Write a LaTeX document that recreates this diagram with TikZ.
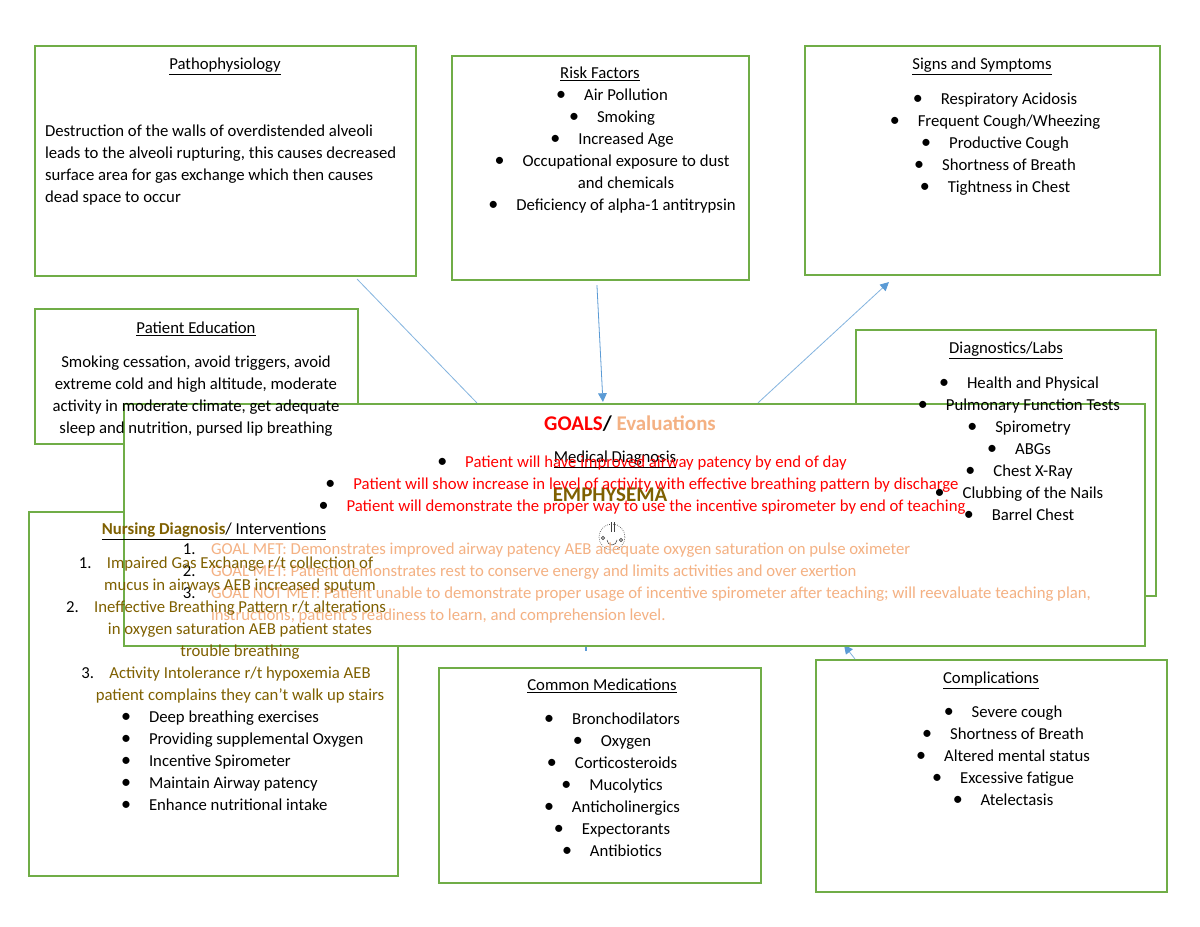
\documentclass[tikz,border=0pt]{standalone}
\usepackage{fontspec}
\setmainfont{Carlito}
\usetikzlibrary{fit,calc,arrows.meta}
\pgfdeclarelayer{under}
\pgfdeclarelayer{over}
\pgfsetlayers{under,main,over}
\definecolor{boxgreen}{HTML}{70AD47}
\definecolor{linkblue}{HTML}{5B9BD5}
\definecolor{olive}{HTML}{7F6000}
\definecolor{peach}{HTML}{F4B183}
\newcommand{\bl}[1]{\leavevmode\strut\llap{\textcolor{black}{\fontsize{15}{15}\selectfont •}\hspace{13.5pt}}#1}
\newcommand{\nm}[2]{\leavevmode\strut\llap{\textcolor{black}{#1}\hspace{11.5pt}}#2}
\tikzset{
  x=0.75pt,y=-0.75pt,
  panel/.style={draw=boxgreen,line width=1.6pt,fill=white,inner sep=0pt,rectangle},
  link/.style={draw=linkblue!75,line width=0.6pt},
  linkhead/.style={link,-{Triangle[width=6.5pt,length=6.5pt,color=linkblue]}},
  txt/.style={inner sep=0pt,outer sep=0pt,anchor=north,align=center,font=\fontsize{12.55}{16.5}\selectfont},
  txtl/.style={txt,align=left,anchor=north west},
  headtxt/.style={txt,font=\fontsize{15.7}{18}\selectfont\bfseries},
}
\begin{document}
\begin{tikzpicture}
\useasboundingbox (0,0) rectangle (1200,927);
\begin{pgfonlayer}{under}
\fill[white] (0,0) rectangle (1200,927);
\node[panel,fit={(35,46)(416,276)}] (patho) {};
\node[panel,fit={(452,56)(749,280)}] (risk) {};
\node[panel,fit={(805,46)(1160,275)}] (signs) {};
\node[panel,fit={(35,309)(358,444)}] (edu) {};
\node[panel,fit={(856,330)(1156,596)}] (diag) {};
\node[panel,fit={(29,512)(398,876)}] (nursing) {};
\node[panel,fit={(439,668)(761,883)}] (meds) {};
\node[panel,fit={(816,660)(1167,892)}] (compl) {};
\end{pgfonlayer}
\node[panel,fit={(124,404)(1145,646)}] (goals) {};
\begin{pgfonlayer}{under}
\draw[link] ($(patho.south east)+(-60,2)$) -- ($(goals.north west)+(354,0)$);
\draw[linkhead,draw=linkblue] ($(risk.south west)+(146,4)$) -- ($(goals.north west)+(480,-1)$);
\draw[linkhead] ($(goals.north west)+(635,0)$) -- ($(signs.south west)+(85,6)$);
\draw[linkhead] ($(compl.north west)+(40,0)$) -- ($(goals.south east)+(-302,-2)$);
\draw[draw=linkblue,line width=1.4pt] ($(goals.south west)+(463,0)$) -- ($(goals.south west)+(463,3.5)$);
\end{pgfonlayer}
\begin{pgfonlayer}{over}
% lung icon
\coordinate (lung) at (612,537);
\draw[black!75,line width=0.5pt,densely dotted] (lung) circle [radius=13];
\draw[black!75,line width=0.5pt] ($(lung)+(-1,-15)$) -- ($(lung)+(-1,-5)$) ($(lung)+(2,-15)$) -- ($(lung)+(2,-5)$);
\draw[black!75,line width=0.4pt] ($(lung)+(-5,3)$) arc[start angle=180,end angle=0,radius=5];
\draw[black!75,line width=0.5pt] ($(lung)+(-9,1)$) circle [radius=1.7] ($(lung)+(9,3)$) circle [radius=1.7];
\node[txt] (pathoT) at (225,54) {\strut\underline{Pathophysiology}};
\node[txtl] (pathoB) at (45,121) {\strut Destruction of the walls of overdistended alveoli\\leads to the alveoli rupturing, this causes decreased\\surface area for gas exchange which then causes\\dead space to occur};
\node[txt] (riskT) at (600,63) {\strut\underline{Risk Factors}};
\node[txt] (riskB) at (626,85) {\bl{Air Pollution}\\\bl{Smoking}\\\bl{Increased Age}\\\bl{Occupational exposure to dust}\\and chemicals\\\bl{Deficiency of alpha-1 antitrypsin}};
\node[txt] (signsT) at (982,54) {\strut\underline{Signs and Symptoms}};
\node[txt] (signsB) at (1009,89) {\bl{Respiratory Acidosis}\\\bl{Frequent Cough/Wheezing}\\\bl{Productive Cough}\\\bl{Shortness of Breath}\\\bl{Tightness in Chest}};
\node[txt] (eduT) at (196,318) {\strut\underline{Patient Education}};
\node[txt] (eduB) at (196,352) {\strut Smoking cessation, avoid triggers, avoid\\extreme cold and high altitude, moderate\\activity in moderate climate, get adequate\\sleep and nutrition, pursed lip breathing};
\node[txt] (diagT) at (1006,338) {\strut\underline{Diagnostics/Labs}};
\node[txt] (diagB) at (1033,373) {\bl{Health and Physical}\\\bl{Pulmonary Function Tests}\\\bl{Spirometry}\\\bl{ABGs}\\\bl{Chest X-Ray}\\\bl{Clubbing of the Nails}\\\bl{Barrel Chest}};
\node[headtxt] (goalsT) at (630,414) {\strut\textcolor{red}{GOALS}\textcolor{black}{/} \textcolor{peach}{Evaluations}};
\node[txt] (medT) at (615,447) {\strut\underline{Medical Diagnosis}};
\node[headtxt,text=olive] (emph) at (610,485) {\strut EMPHYSEMA};
\node[txt,text=red] (goalsB) at (656,452) {\bl{Patient will have improved airway patency by end of day}\\\bl{Patient will show increase in level of activity with effective breathing pattern by discharge}\\\bl{Patient will demonstrate the proper way to use the incentive spirometer by end of teaching}};
\node[txtl,text=peach] (evalB) at (211,539.5) {\nm{1.}{GOAL MET: Demonstrates improved airway patency AEB adequate oxygen saturation on pulse oximeter}\\\nm{2.}{GOAL MET: Patient demonstrates rest to conserve energy and limits activities and over exertion}\\\nm{3.}{GOAL NOT MET: Patient unable to demonstrate proper usage of incentive spirometer after teaching; will reevaluate teaching plan,}\\instructions, patient’s readiness to learn, and comprehension level.};
\node[txt] (nursT) at (214,519) {\strut\underline{\textcolor{olive}{\textbf{Nursing Diagnosis}}/ Interventions}};
\node[txt,text=olive] (nursB) at (240,553) {\nm{1.}{Impaired Gas Exchange r/t collection of}\\mucus in airways AEB increased sputum\\\nm{2.}{Ineffective Breathing Pattern r/t alterations}\\in oxygen saturation AEB patient states\\trouble breathing\\\nm{3.}{Activity Intolerance r/t hypoxemia AEB}\\patient complains they can’t walk up stairs};
\node[txtl] (nursL) at (149,707) {\bl{Deep breathing exercises}\\\bl{Providing supplemental Oxygen}\\\bl{Incentive Spirometer}\\\bl{Maintain Airway patency}\\\bl{Enhance nutritional intake}};
\node[txt] (medsT) at (602,675) {\strut\underline{Common Medications}};
\node[txt] (medsB) at (626,709) {\bl{Bronchodilators}\\\bl{Oxygen}\\\bl{Corticosteroids}\\\bl{Mucolytics}\\\bl{Anticholinergics}\\\bl{Expectorants}\\\bl{Antibiotics}};
\node[txt] (complT) at (991,668) {\strut\underline{Complications}};
\node[txt] (complB) at (1017,702) {\bl{Severe cough}\\\bl{Shortness of Breath}\\\bl{Altered mental status}\\\bl{Excessive fatigue}\\\bl{Atelectasis}};
\end{pgfonlayer}
\end{tikzpicture}
\end{document}
